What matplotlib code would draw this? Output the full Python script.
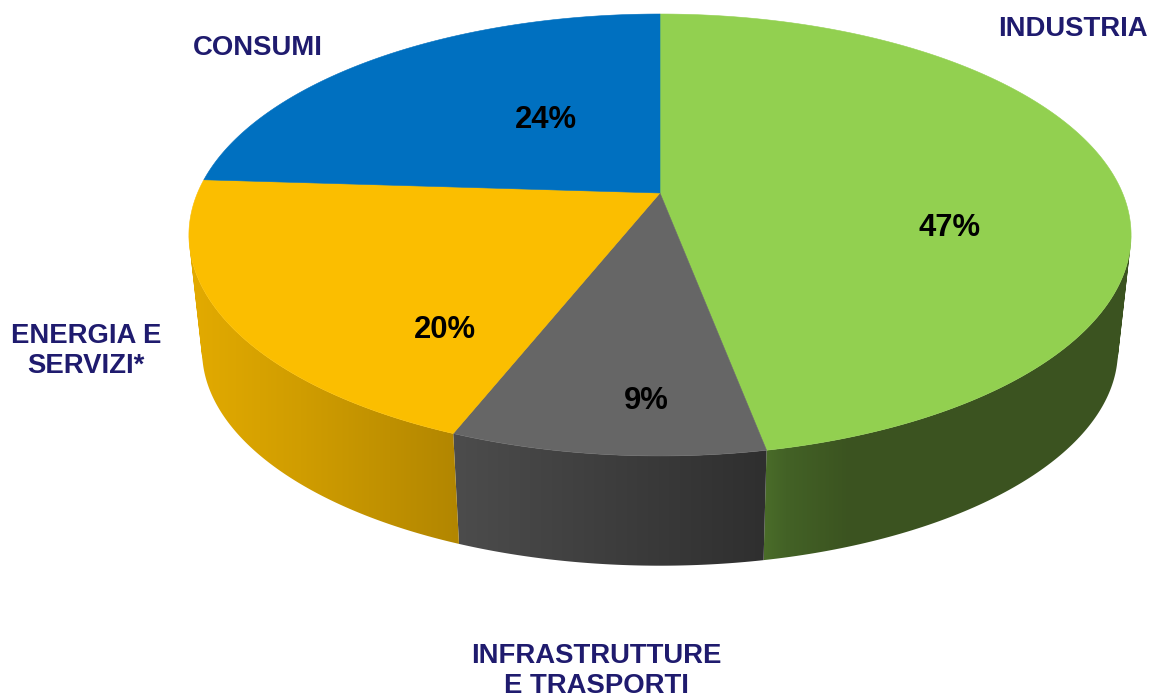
import numpy as np
import matplotlib
matplotlib.use('Agg')
import matplotlib.pyplot as plt
from matplotlib.colors import to_rgb
from matplotlib.path import Path

# Chart data, clockwise from 12 o'clock
categories = ['INDUSTRIA', 'INFRASTRUTTURE\nE TRASPORTI', 'ENERGIA E\nSERVIZI*', 'CONSUMI']
shares = [47, 9, 20, 24]
value_labels = ['47%', '9%', '20%', '24%']

top_colors = ['#92d050', '#666666', '#fbbe00', '#0070c0']

# Wall shading: colour stops along the horizontal pixel position
wall_stops = [
    ([765, 785, 850], ['#4a6c29', '#436226', '#3b5320']),
    ([455, 765], ['#4c4c4c', '#2f2f2f']),
    ([195, 300, 458], ['#e2aa00', '#d09d00', '#b28600']),
    ([200, 660], ['#003a66', '#003a66']),
]

# Text placement in pixels
category_pos = [(1073, 29), (596, 671), (86, 351), (258, 48)]
value_pos = [(950, 228), (646, 401), (445, 330), (546, 120)]

# Perspective of the disc
cx, cy = 660, 193
rx, ry = 462.5, 213
k = 0.19
# Bottom rim is the top rim scaled and moved down
rim_scale = 0.972
rim_shift = 122.5
# Rim above this line is behind the disc and has no visible wall
wall_from_y = 235


def top_point(theta):
    u, v = np.sin(theta), np.cos(theta)
    w = 1 + k * v
    return cx + rx * u / w, cy - ry * v / w


def bottom_point(x, y):
    return cx + rim_scale * (x - cx), rim_scale * y + rim_shift


def wall_gradient(stops):
    xs, cols = stops
    rgb = np.array([to_rgb(c) for c in cols])
    px = np.arange(1152)
    return np.dstack([np.interp(px, xs, rgb[:, i]) for i in range(3)])


def wall_path(x, y, xb, yb):
    # one quad per step, all turned the same way so the compound path has no holes
    parts = []
    for j in range(len(x) - 1):
        quad = np.array([(x[j], y[j]), (x[j + 1], y[j + 1]), (xb[j + 1], yb[j + 1]), (xb[j], yb[j])])
        area = np.sum(quad[:, 0] * np.roll(quad[:, 1], -1) - np.roll(quad[:, 0], -1) * quad[:, 1])
        if area < 0:
            quad = quad[::-1]
        parts.append(Path(np.vstack([quad, quad[0]]), closed=True))
    return Path.make_compound_path(*parts)


fig = plt.figure(figsize=(11.52, 6.95), dpi=100)
ax = fig.add_axes([0, 0, 1, 1])

edges = np.cumsum([0] + shares) / sum(shares) * 2 * np.pi

# Side walls first, the top faces go over them
for i in range(len(shares)):
    theta = np.linspace(edges[i], edges[i + 1], 240)
    x, y = top_point(theta)
    front = y > wall_from_y
    if front.sum() < 2:
        continue
    x, y = x[front], y[front]
    xb, yb = bottom_point(x, y)
    im = ax.imshow(wall_gradient(wall_stops[i]), extent=(0, 1152, 695, 0), aspect='auto', zorder=1)
    im.set_clip_path(wall_path(x, y, xb, yb), transform=ax.transData)

for i in range(len(shares)):
    theta = np.linspace(edges[i], edges[i + 1], 240)
    x, y = top_point(theta)
    ax.fill(np.r_[cx, x], np.r_[cy, y], color=top_colors[i], lw=0.4, zorder=2)

for label, (tx, ty) in zip(categories, category_pos):
    ax.text(tx, ty, label, ha='center', va='center', family='Liberation Sans', fontweight='bold',
            fontsize=19.85, color='#1f1b6e', linespacing=1.22, zorder=3)

for label, (tx, ty) in zip(value_labels, value_pos):
    ax.text(tx, ty, label, ha='center', va='center', family='Liberation Sans', fontweight='bold',
            fontsize=22.3, color='black', zorder=3)

ax.set_xlim(0, 1152)
ax.set_ylim(695, 0)
ax.axis('off')

fig.savefig('out.png', dpi=100)
